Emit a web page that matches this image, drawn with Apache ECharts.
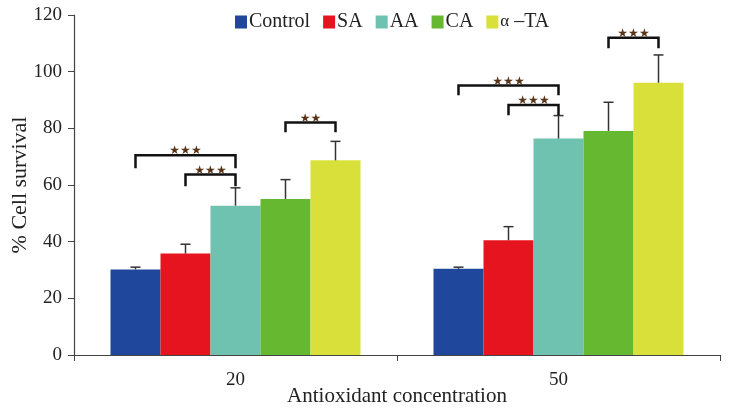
<!DOCTYPE html>
<html>
<head>
<meta charset="utf-8">
<script src="https://cdn.jsdelivr.net/npm/echarts@6/dist/echarts.min.js"></script>
<style>html,body{margin:0;padding:0;background:#fff}#c{width:729px;height:410px}</style>
</head>
<body>
<div id="c"></div>
<script>
var categories = ['20', '50'];
var seriesNames = ['Control', 'SA', 'AA', 'CA', 'α –TA'];
var control = [30.2, 30.4];
var sa = [35.8, 40.5];
var aa = [52.7, 76.4];
var ca = [55.1, 79.1];
var ta = [68.7, 96.1];
var controlErr = [0.8, 0.6];
var saErr = [3.3, 4.8];
var aaErr = [6.3, 8.1];
var caErr = [6.8, 10.1];
var taErr = [6.7, 9.8];
var yTicks = [0, 20, 40, 60, 80, 100, 120];
// brackets: [categoryIndex, fromSeries, toSeries, topValue, legBottomValue, stars]
var brackets = [
  [0, 0, 2, 70.5, 65.9, '★★★'],
  [0, 1, 2, 63.7, 59.6, '★★★'],
  [0, 3, 4, 82.1, 78.6, '★★'],
  [1, 0, 2, 95.1, 91.7, '★★★'],
  [1, 1, 2, 88.2, 84.6, '★★★'],
  [1, 3, 4, 112.0, 108.3, '★★★']
];

var values = [control, sa, aa, ca, ta];
var errs = [controlErr, saErr, aaErr, caErr, taErr];
var colors = ['#1f479b', '#e5141f', '#6fc2b0', '#66b830', '#d9e03a'];
var BAR_W = 50;
var serif = 'Liberation Serif';

var series = [];
values.forEach(function (v, i) {
  series.push({
    name: seriesNames[i], type: 'bar', data: v, barWidth: BAR_W, barGap: '0%',
    itemStyle: { color: colors[i] }, z: 2
  });
});

var errData = [];
values.forEach(function (v, s) {
  v.forEach(function (val, c) { errData.push([c, s, val, errs[s][c]]); });
});

series.push({
  type: 'custom', z: 5, silent: true,
  data: errData,
  renderItem: function (params, api) {
    var c = api.value(0), s = api.value(1), val = api.value(2), e = api.value(3);
    var x = api.coord([c, 0])[0] + (s - 2) * BAR_W;
    var y0 = api.coord([c, val])[1];
    var y1 = api.coord([c, val + e])[1];
    var st = { stroke: '#333', lineWidth: 1.5 };
    return { type: 'group', children: [
      { type: 'line', shape: { x1: x, y1: y0, x2: x, y2: y1 }, style: st },
      { type: 'line', shape: { x1: x - 5, y1: y1, x2: x + 5, y2: y1 }, style: st }
    ]};
  }
});

series.push({
  type: 'custom', z: 6, silent: true,
  data: brackets,
  renderItem: function (params, api) {
    var c = api.value(0), a = api.value(1), b = api.value(2), top = api.value(3), leg = api.value(4);
    var label = brackets[params.dataIndex][5];
    var cx = api.coord([c, 0])[0];
    var xa = cx + (a - 2) * BAR_W, xb = cx + (b - 2) * BAR_W;
    var yt = api.coord([c, top])[1], yl = api.coord([c, leg])[1];
    return { type: 'group', children: [
      { type: 'polyline', shape: { points: [[xa, yl], [xa, yt], [xb, yt], [xb, yl]] },
        style: { stroke: '#111', lineWidth: 2.5, fill: null } },
      { type: 'text', x: (xa + xb) / 2, y: yt + 2,
        style: { text: label, fill: '#5a3418', font: '12px DejaVu Sans', align: 'center', verticalAlign: 'bottom' } }
    ]};
  }
});

var chart = echarts.init(document.getElementById('c'));
chart.setOption({
  animation: false,
  textStyle: { fontFamily: serif },
  legend: {
    data: seriesNames, left: 230, top: 7, icon: 'rect', itemWidth: 12, itemHeight: 13, itemGap: 13,
    formatter: function (name) {
      if (name.indexOf('α') === 0) return '{a|α} {b|–TA}';
      return name;
    },
    textStyle: {
      fontFamily: serif, fontSize: 20, color: '#222', padding: [0, 0, 0, -3],
      rich: {
        a: { fontFamily: serif, fontSize: 17, color: '#222' },
        b: { fontFamily: serif, fontSize: 20, color: '#222' }
      }
    }
  },
  grid: { left: 74, right: 9, top: 15, bottom: 55, outerBoundsMode: 'none', containLabel: false },
  xAxis: {
    type: 'category', data: categories,
    name: 'Antioxidant concentration', nameLocation: 'middle', nameGap: 31, nameMoveOverlap: false,
    nameTextStyle: { fontFamily: serif, fontSize: 21, color: '#222' },
    axisLine: { lineStyle: { color: '#444', width: 1.2 } },
    axisTick: { show: true, length: 6, lineStyle: { color: '#444' } },
    axisLabel: { fontFamily: serif, fontSize: 19, color: '#222', margin: 16 }
  },
  yAxis: {
    type: 'value', min: yTicks[0], max: yTicks[yTicks.length - 1], interval: 20,
    name: '% Cell survival', nameLocation: 'middle', nameGap: 43, nameMoveOverlap: false,
    nameTextStyle: { fontFamily: serif, fontSize: 22, color: '#222' },
    axisLine: { show: true, lineStyle: { color: '#444', width: 1.2 } },
    axisTick: { show: true, length: 6, lineStyle: { color: '#444' } },
    splitLine: { show: false },
    axisLabel: { fontFamily: serif, fontSize: 19, color: '#222', margin: 12 }
  },
  series: series
});
</script>
</body>
</html>
